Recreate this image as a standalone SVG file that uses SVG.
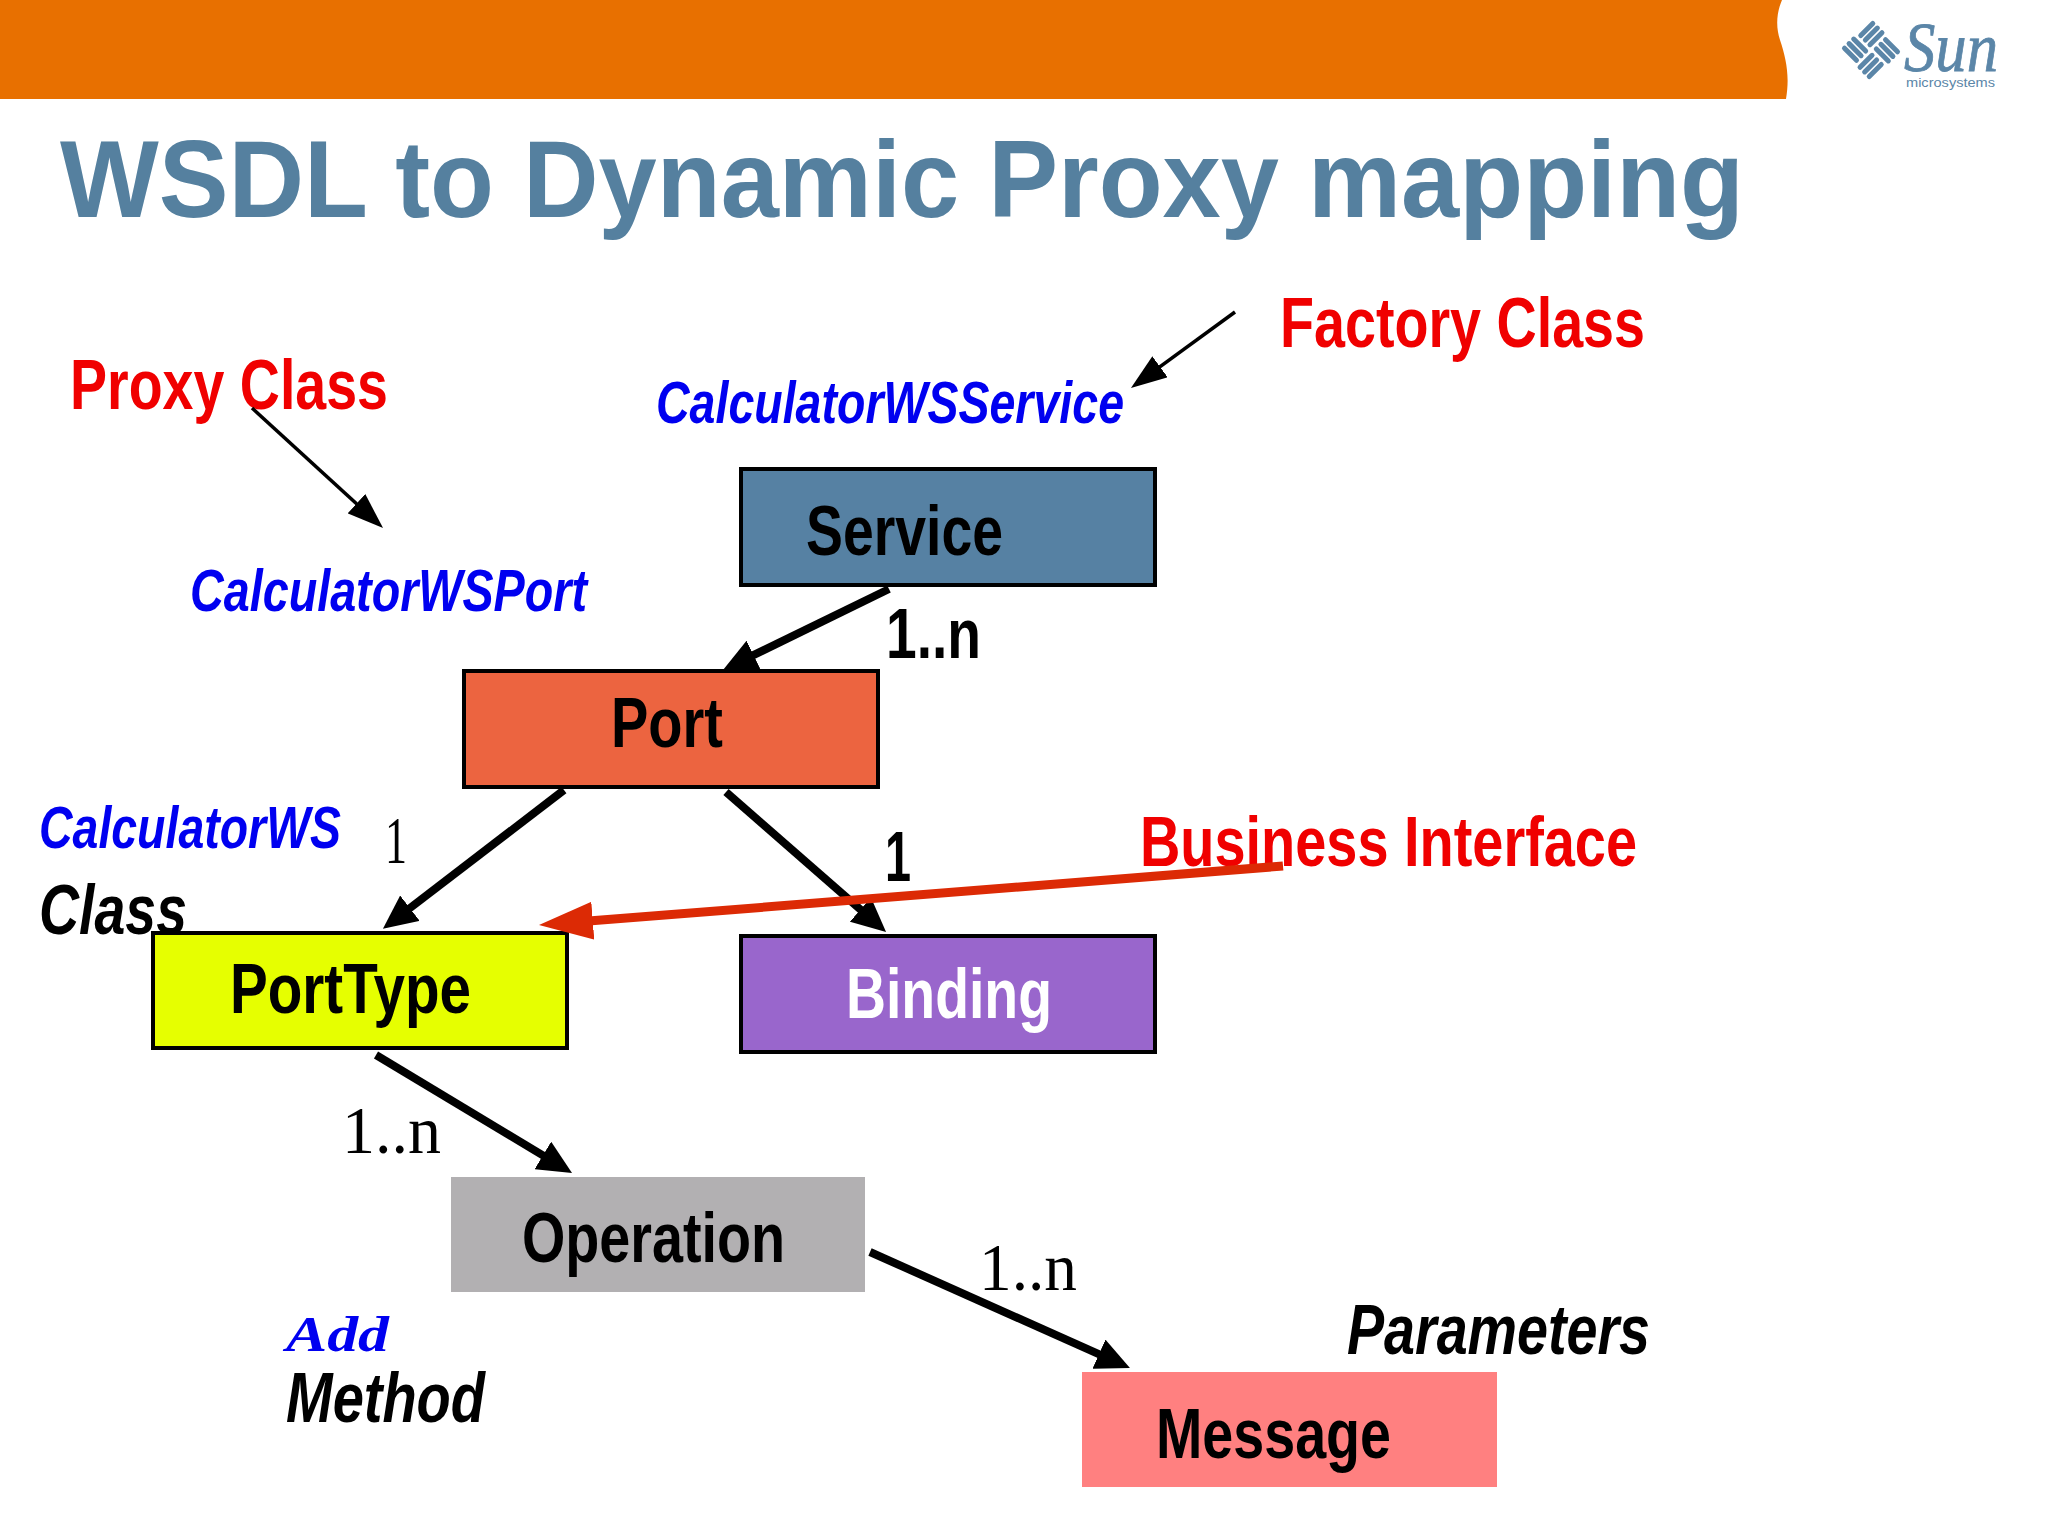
<svg xmlns="http://www.w3.org/2000/svg" width="2048" height="1536" viewBox="0 0 2048 1536">
<style>
text{font-family:"Liberation Sans",Arial,sans-serif;font-weight:bold;font-size:70px;fill:#000}
.title{font-size:110px;fill:#55809f}
.red{fill:#f00000}
.blue{font-size:59px;fill:#0000f0;font-style:italic}
.it{font-style:italic}
.ser{font-family:"Liberation Serif","Times New Roman",serif;font-weight:normal;font-size:68px}
.mono{font-family:"Liberation Serif","Courier New",serif;font-size:50px;fill:#0000f0;font-style:italic}
.box{stroke:#000;stroke-width:4}
.thick{stroke:#000;stroke-width:8;fill:none;marker-end:url(#hThick)}
.thin{stroke:#000;stroke-width:3.500;fill:none;marker-end:url(#hThin)}
.redl{stroke:#dc2a05;stroke-width:9;fill:none;marker-end:url(#hRed)}
</style>
<defs>
<marker id="hThick" markerUnits="userSpaceOnUse" markerWidth="34" markerHeight="32" refX="14" refY="16" orient="auto"><path d="M0,0 L34,16 L0,32 Z" fill="#000"/></marker>
<marker id="hThin" markerUnits="userSpaceOnUse" markerWidth="36" markerHeight="26" refX="16" refY="13" orient="auto"><path d="M0,0 L36,13 L0,26 Z" fill="#000"/></marker>
<marker id="hRed" markerUnits="userSpaceOnUse" markerWidth="54" markerHeight="38" refX="30" refY="19" orient="auto"><path d="M0,0 L54,19 L0,38 Z" fill="#dc2a05"/></marker>
<g id="blk" stroke="#5b86a8" stroke-width="5" stroke-linecap="round" fill="none"><path d="M3,-4.500H20M3,-11H20M3,-17.500H20"/></g>
</defs>
<rect width="2048" height="1536" fill="#fff"/>
<path id="banner" d="M0,0H1782C1776,14 1776,28 1780,40C1786,58 1790,76 1786,99H0Z" fill="#e87000"/>
<g id="logo">
<g transform="translate(1871,50) rotate(45)">
<use href="#blk"/><use href="#blk" transform="rotate(90)"/><use href="#blk" transform="rotate(180)"/><use href="#blk" transform="rotate(270)"/>
</g>
<text x="1904" y="71" textLength="94" lengthAdjust="spacingAndGlyphs" style="font-family:'Liberation Serif',serif;font-style:italic;font-weight:normal;font-size:70px;fill:#5b86a8;stroke:#5b86a8;stroke-width:0.800">Sun</text>
<text x="1906" y="87" textLength="89" lengthAdjust="spacingAndGlyphs" style="font-size:13px;font-weight:normal;fill:#5b86a8">microsystems</text>
</g>
<text id="title" class="title" x="60" y="217" textLength="1684" lengthAdjust="spacingAndGlyphs">WSDL to Dynamic Proxy mapping</text>

<g id="node-service"><rect class="box" x="741" y="469" width="414" height="116" fill="#5681a3"/><text x="806" y="555" textLength="197" lengthAdjust="spacingAndGlyphs">Service</text></g>
<g id="node-port"><rect class="box" x="464" y="671" width="414" height="116" fill="#ec6440"/><text x="611" y="747" textLength="112" lengthAdjust="spacingAndGlyphs">Port</text></g>
<g id="node-porttype"><rect class="box" x="153" y="933" width="414" height="115" fill="#e6ff00"/><text x="230" y="1013" textLength="241" lengthAdjust="spacingAndGlyphs">PortType</text></g>
<g id="node-binding"><rect class="box" x="741" y="936" width="414" height="116" fill="#9966cc"/><text x="846" y="1018" textLength="206" lengthAdjust="spacingAndGlyphs" style="fill:#fff">Binding</text></g>
<g id="node-operation"><rect x="451" y="1177" width="414" height="115" fill="#b2b0b2"/><text x="522" y="1262" textLength="263" lengthAdjust="spacingAndGlyphs">Operation</text></g>
<g id="node-message"><rect x="1082" y="1372" width="415" height="115" fill="#ff8080"/><text x="1156" y="1458" textLength="235" lengthAdjust="spacingAndGlyphs">Message</text></g>

<g id="labels">
<text class="red" x="70" y="409" textLength="318" lengthAdjust="spacingAndGlyphs">Proxy Class</text>
<text class="red" x="1280" y="347" textLength="365" lengthAdjust="spacingAndGlyphs">Factory Class</text>
<text class="red" x="1140" y="866" textLength="497" lengthAdjust="spacingAndGlyphs">Business Interface</text>
<text class="blue" x="656" y="423" textLength="468" lengthAdjust="spacingAndGlyphs">CalculatorWSService</text>
<text class="blue" x="190" y="611" textLength="397" lengthAdjust="spacingAndGlyphs">CalculatorWSPort</text>
<text class="blue" x="39" y="848" textLength="302" lengthAdjust="spacingAndGlyphs">CalculatorWS</text>
<text class="it" x="39" y="934" textLength="148" lengthAdjust="spacingAndGlyphs">Class</text>
<text class="mono" x="286" y="1351" textLength="103" lengthAdjust="spacingAndGlyphs">Add</text>
<text class="it" x="286" y="1422" textLength="199" lengthAdjust="spacingAndGlyphs">Method</text>
<text class="it" x="1347" y="1354" textLength="303" lengthAdjust="spacingAndGlyphs">Parameters</text>
<text x="886" y="658" textLength="95" lengthAdjust="spacingAndGlyphs">1..n</text>
<text x="885" y="881" textLength="26" lengthAdjust="spacingAndGlyphs">1</text>
<text class="ser" x="385" y="863" textLength="22" lengthAdjust="spacingAndGlyphs">1</text>
<text class="ser" x="342" y="1153" textLength="99" lengthAdjust="spacingAndGlyphs">1..n</text>
<text class="ser" x="979" y="1290" textLength="98" lengthAdjust="spacingAndGlyphs">1..n</text>
</g>

<g id="connectors">
<line class="thin" x1="252" y1="408" x2="368.300" y2="514.500"/>
<line class="thin" x1="1235" y1="312" x2="1147.100" y2="376.200"/>
<line class="thick" x1="889" y1="589" x2="741" y2="661.200"/>
<line class="thick" x1="564" y1="790" x2="398.800" y2="916.700"/>
<line class="thick" x1="726" y1="792" x2="871" y2="918.800"/>
<line class="thick" x1="376" y1="1055" x2="554.900" y2="1162.600"/>
<line class="thick" x1="870" y1="1252" x2="1111.700" y2="1359.900"/>
<line class="redl" x1="1283" y1="866" x2="562.900" y2="923.100"/>
</g>
</svg>
